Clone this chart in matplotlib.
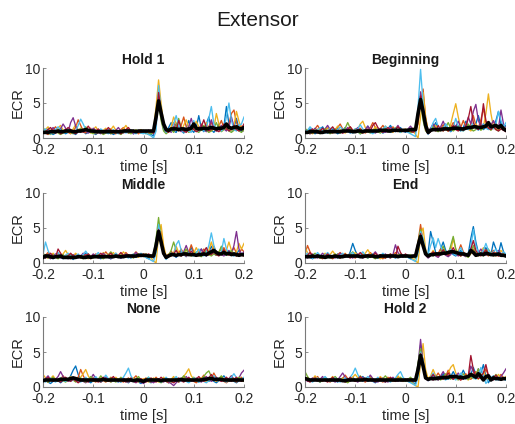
import numpy as np
import matplotlib
matplotlib.use("Agg")
import matplotlib.pyplot as plt

plt.rcParams['font.family'] = ['Liberation Sans', 'DejaVu Sans']

time_s = np.round(np.arange(-0.2, 0.2001, 0.005), 3)

titles = ["Hold 1", "Beginning", "Middle", "End", "None", "Hold 2"]
colors = ['#0072BD', '#D95319', '#EDB120', '#7E2F8E', '#77AC30', '#4DBEEE', '#A2142F']

# ---------------- Hold 1 ----------------
hold1_mean = [0.8,0.8,0.8,0.9,0.9,0.9,1.0,0.9,0.9,1.0, 1.0,1.0,0.9,0.9,1.0,1.0,1.1,1.2,1.1,1.0, 1.0,0.9,0.9,0.9,0.9,0.9,0.9,0.9,0.9,0.9, 0.9,0.9,1.0,1.0,1.0,1.0,1.0,0.9,1.0,1.0,
              1.0,1.0,1.0,1.0,1.0,3.0,5.3,3.6,2.0,1.2, 1.1,1.3,1.3,1.3,1.2,1.3,1.3,1.2,1.3,1.4, 2.0,1.4,1.3,1.3,1.4,1.3,1.4,1.5,1.4,1.3, 1.4,1.4,1.5,2.0,1.5,1.4,1.5,1.6,1.4,1.3,1.5]
hold1_traces = [
    [0.6,0.9,1.3,0.8,0.5,0.7,1.1,1.4,0.9,0.6, 0.8,1.2,0.7,0.5,0.9,1.3,1.0,0.6,0.8,1.1, 0.7,0.5,0.8,1.0,0.6,0.9,1.2,0.8,0.5,0.7, 1.0,0.6,0.8,1.1,0.7,0.9,0.6,0.8,1.0,0.7,
     0.8,0.6,0.9,0.5,0.3,3.5,7.0,3.0,1.2,0.8, 1.5,2.2,1.0,0.8,1.6,1.1,0.7,1.4,2.5,1.2, 0.8,1.5,3.2,1.4,0.9,2.0,3.0,1.2,0.8,1.3, 2.0,1.1,1.6,4.5,2.0,1.0,1.5,2.8,1.3,0.9,1.5],
    [1.0,0.7,0.5,0.8,1.2,1.6,1.1,0.7,0.9,1.3, 0.8,0.6,1.0,1.5,2.6,1.8,1.0,0.7,1.1,1.4, 0.9,0.6,0.8,1.2,0.9,0.7,1.0,1.3,0.8,0.6, 0.9,1.2,1.5,1.0,0.7,0.9,1.1,0.8,0.6,0.9,
     1.1,0.8,0.6,1.0,0.8,2.5,6.0,4.0,1.8,1.0, 0.9,1.3,2.2,1.5,1.0,1.8,3.0,1.6,1.0,1.2, 1.8,1.2,1.0,2.0,1.4,1.1,1.6,2.2,1.3,1.0, 1.7,2.5,1.4,1.1,2.0,3.5,4.0,2.2,1.3,1.7,1.4],
    [0.8,1.2,1.6,1.0,0.7,0.9,1.4,1.8,1.1,0.8, 1.0,0.7,1.3,1.9,1.2,0.8,1.1,1.5,1.0,0.7, 1.2,1.6,1.0,0.8,1.1,1.4,0.9,1.2,1.7,1.1, 0.8,1.0,1.3,1.8,1.2,0.9,1.1,0.8,1.0,1.2,
     0.9,1.1,0.8,1.0,1.2,4.5,8.3,5.0,2.0,1.2, 1.0,1.6,3.0,2.0,1.2,1.0,1.8,2.6,1.5,1.1, 1.4,2.4,1.6,1.1,1.3,2.2,1.5,1.0,1.4,3.5, 2.0,1.2,1.5,2.0,1.4,1.1,1.8,3.8,2.4,1.3,1.6],
    [1.2,0.8,0.6,1.0,1.5,1.1,0.8,1.3,2.0,1.4, 0.9,2.2,2.9,1.7,1.0,0.8,1.2,1.0,0.7,0.9, 1.4,1.1,0.8,0.6,0.9,1.2,0.8,0.6,0.8,1.1, 1.5,1.0,0.7,0.9,1.2,0.8,0.6,0.8,1.0,0.8,
     0.7,0.9,1.1,0.8,0.6,2.0,5.5,3.5,1.5,0.9, 1.2,0.8,1.4,2.0,1.2,0.9,1.3,1.0,1.6,2.8, 1.5,1.0,1.3,1.9,1.2,0.9,1.4,2.6,1.4,1.0, 1.2,1.8,1.3,1.0,1.5,3.0,1.6,1.1,1.4,1.2,1.0],
    [1.5,1.0,0.7,0.5,0.8,1.1,0.7,0.5,0.7,0.9, 1.2,0.8,0.6,0.8,1.1,1.4,1.0,1.6,1.2,0.8, 0.6,0.9,1.2,0.8,0.5,0.7,0.9,0.6,0.8,1.0, 0.7,0.5,0.8,1.1,0.8,0.6,0.9,1.2,0.9,0.7,
     0.9,0.7,0.5,0.6,0.8,3.0,5.0,2.5,1.0,0.6, 0.9,1.2,0.8,1.8,2.8,1.5,0.9,1.2,0.8,1.0, 1.6,1.0,0.8,1.2,1.8,1.1,0.8,1.0,1.4,2.2, 1.3,0.9,1.2,1.6,1.0,0.8,1.1,1.5,1.0,0.8,1.2],
    [0.9,1.3,0.9,0.6,0.8,1.2,1.6,1.1,0.8,1.0, 1.4,1.0,0.7,1.0,1.8,2.7,2.0,1.2,0.9,1.3, 1.0,0.7,0.9,1.3,1.0,0.8,0.6,0.9,1.2,0.8, 0.6,0.8,1.0,0.7,0.9,1.2,0.8,0.6,0.9,0.7,
     0.6,0.8,0.5,0.3,0.0,1.0,7.5,4.0,1.5,0.8, 1.3,1.0,2.0,3.2,1.8,1.1,0.9,1.4,1.0,0.8, 2.5,1.4,1.0,1.3,1.0,1.5,2.8,4.5,2.0,1.2, 1.5,1.0,1.4,3.0,5.0,2.5,1.2,1.0,1.8,2.0,3.0],
    [0.7,0.9,1.2,1.5,1.0,0.7,0.9,0.6,0.8,1.1, 1.5,1.2,0.8,0.6,0.9,1.2,0.8,1.1,1.7,1.2, 0.8,1.0,1.3,0.9,0.7,1.0,1.5,1.1,0.8,1.0, 0.8,0.6,0.9,1.2,1.5,1.0,0.8,1.1,0.9,0.8,
     1.0,0.8,1.1,0.9,0.7,2.2,6.5,3.8,1.6,1.0, 0.8,1.2,1.6,1.1,2.5,1.4,1.0,0.8,1.2,1.7, 1.2,0.9,1.1,1.6,2.6,1.5,1.0,1.2,1.6,1.1, 0.9,1.3,2.0,1.4,1.0,1.3,1.8,1.2,1.0,1.4,2.0],
]

# ---------------- Beginning ----------------
begin_mean = [0.8,0.8,0.9,0.9,0.9,0.9,0.8,0.8,0.9,0.9, 0.9,0.9,0.9,0.9,0.9,1.0,1.0,1.0,1.0,0.9, 0.9,1.0,1.0,0.9,1.0,1.0,1.0,1.0,1.0,1.0, 1.1,1.1,1.1,1.0,1.0,1.1,1.1,1.1,1.1,1.1,
              1.1,1.1,1.2,1.2,1.2,3.5,5.5,3.8,1.8,0.8, 1.1,1.2,1.2,1.2,1.2,1.3,1.3,1.3,1.3,1.4, 1.4,1.4,1.3,1.3,1.4,1.5,1.5,1.6,1.6,1.5, 1.5,1.6,1.7,2.2,1.6,1.7,1.8,1.5,1.8,1.3,1.1]
begin_traces = [
    [0.7,1.0,1.3,0.9,0.6,0.8,1.2,1.6,1.0,0.7, 0.9,1.3,0.9,0.6,0.8,1.1,1.5,1.0,0.7,1.0, 1.3,0.9,0.6,0.9,1.2,1.7,1.1,0.8,1.0,1.4, 1.0,0.7,0.9,1.3,1.8,1.2,0.9,1.1,1.5,1.0,
     0.8,1.1,1.4,1.0,0.8,3.0,6.0,4.0,1.5,0.6, 1.0,1.5,2.2,1.3,1.0,1.4,2.0,1.2,0.9,1.3, 1.8,1.2,1.0,1.5,2.4,1.5,1.1,1.4,2.0,3.2, 1.8,1.2,1.5,2.0,1.4,1.6,2.5,3.8,2.0,1.4,1.8],
    [1.1,0.8,0.6,0.9,1.3,1.8,1.2,0.8,1.0,1.4, 1.0,0.7,1.0,1.5,2.0,1.3,0.9,1.2,1.6,1.1, 0.8,1.0,1.4,1.0,0.7,1.0,1.5,2.2,1.5,1.0, 1.3,1.8,1.2,0.9,1.2,1.6,1.1,0.9,1.3,1.0,
     1.2,0.9,1.1,1.4,1.0,2.0,5.0,7.0,3.0,1.0, 1.2,2.0,1.4,1.0,1.3,1.9,1.2,1.0,1.5,2.2, 1.4,1.1,1.5,2.5,1.6,1.2,2.0,3.2,1.8,1.4, 2.6,4.2,2.2,1.4,1.8,2.4,1.5,1.2,1.6,1.2,1.0],
    [0.9,1.2,0.8,0.6,0.9,1.3,1.0,0.7,1.1,1.5, 1.1,0.8,1.2,1.7,1.2,0.9,0.7,1.0,1.4,1.0, 0.8,1.2,2.0,2.4,1.5,1.0,0.8,1.1,1.6,1.2, 0.9,1.2,1.7,1.3,0.9,0.8,1.2,1.0,0.8,1.1,
     1.3,1.0,0.8,1.1,0.5,0.0,3.0,6.5,3.0,0.8, 1.0,1.4,1.8,1.2,1.0,1.5,1.2,1.0,2.0,3.5, 4.9,3.0,1.5,1.2,1.6,1.3,1.0,1.5,2.0,1.4, 1.2,1.6,3.5,6.3,3.5,1.6,1.2,1.4,1.8,1.3,1.0],
    [1.2,0.8,0.6,0.9,1.4,1.0,0.7,0.9,1.3,1.8, 1.2,0.8,1.0,1.3,0.9,0.7,1.0,1.5,1.0,0.8, 1.1,1.5,1.0,0.8,1.2,1.7,1.2,0.9,0.7,1.0, 1.4,1.0,0.8,1.1,1.5,1.1,1.3,1.8,1.2,0.9,
     1.0,1.3,1.7,1.2,1.0,3.5,6.6,3.5,1.5,1.0, 1.4,2.0,1.3,1.0,1.6,2.4,1.5,1.1,1.4,1.1, 1.6,2.4,1.5,1.2,1.8,3.0,2.0,3.8,4.8,2.5, 1.6,2.0,1.5,1.3,1.8,2.5,1.6,1.4,4.0,2.0,1.2],
    [1.4,1.0,0.7,0.9,1.2,0.8,0.6,0.9,1.3,0.9, 0.6,0.9,1.3,1.0,0.7,0.9,1.4,2.2,1.4,0.9, 1.2,0.9,0.6,0.8,1.2,0.9,0.7,1.0,1.3,0.9, 0.7,1.0,1.4,1.0,0.8,1.1,1.5,1.1,0.8,1.0,
     1.2,0.9,0.7,1.0,1.3,4.0,5.5,2.5,1.0,0.7, 1.1,1.6,1.1,0.9,1.3,1.0,1.5,2.2,1.4,1.0, 1.3,1.8,1.2,1.0,1.4,2.0,1.3,1.0,1.2,1.6, 1.1,1.4,2.0,1.4,1.1,1.5,1.2,1.0,1.3,1.6,1.2],
    [0.8,1.1,1.6,1.2,0.8,1.1,1.5,1.0,0.7,1.0, 1.4,1.0,0.8,1.2,1.6,1.2,0.9,1.2,1.0,0.7, 0.9,1.3,1.9,1.3,0.9,1.1,0.8,0.6,0.9,1.3, 0.9,1.2,1.7,1.2,0.8,1.0,1.4,1.0,0.8,1.2,
     1.0,0.8,0.6,0.4,0.2,4.5,9.8,5.0,1.5,0.5, 1.2,2.2,2.8,1.6,1.1,1.4,2.0,1.3,1.0,1.5, 2.8,1.6,1.2,1.0,1.4,1.2,1.6,2.2,1.4,1.1, 1.5,2.0,1.4,1.2,1.6,1.3,2.0,3.8,2.5,1.6,2.2],
    [1.0,0.7,1.0,1.3,0.9,0.7,1.0,1.4,1.0,0.8, 1.2,1.6,1.1,0.8,1.0,0.7,0.9,1.2,1.6,1.1, 0.9,1.2,0.9,0.7,1.0,1.3,1.0,1.8,2.2,1.5, 1.0,0.8,1.1,1.5,1.1,0.9,1.2,1.6,1.2,1.0,
     0.9,1.2,1.0,0.8,1.1,3.0,6.0,3.8,1.2,0.6, 0.9,1.3,1.0,1.8,1.2,1.0,1.4,1.0,1.2,1.8, 1.2,1.0,1.4,1.1,1.6,2.8,4.5,2.2,1.4,1.2, 1.8,4.9,2.5,1.4,1.2,1.6,1.2,1.0,1.3,1.1,0.9],
]

# ---------------- Middle ----------------
middle_mean = [0.8,1.0,1.0,0.9,0.8,0.9,0.9,1.0,0.8,0.8, 0.8,0.8,0.8,0.8,0.9,0.9,0.8,0.8,0.9,0.8, 0.9,0.9,0.9,0.9,0.9,0.9,0.9,0.9,0.9,1.0, 0.9,0.9,0.9,1.0,1.0,1.0,1.0,1.0,1.1,1.1,
               1.1,1.1,1.0,1.0,1.0,2.5,4.5,3.0,1.4,0.8, 1.0,1.2,1.2,1.1,1.2,1.2,1.3,1.3,1.2,1.2, 1.2,1.1,1.2,1.2,1.3,1.2,1.4,1.6,1.8,1.5, 1.3,1.3,1.5,1.3,1.4,1.2,1.3,1.2,1.1,1.2,1.2]
middle_traces = [
    [1.0,0.7,1.2,0.8,0.6,0.9,1.2,0.8,0.6,0.9, 1.1,0.8,0.5,0.8,1.0,0.7,1.1,1.4,1.0,0.7, 0.9,1.2,0.8,0.6,0.9,1.1,0.8,0.6,0.9,1.2, 0.9,0.7,1.0,1.3,0.9,0.7,1.0,0.8,1.1,1.3,
     1.0,0.8,0.6,0.9,0.7,2.5,5.0,3.2,1.2,0.6, 1.0,1.5,1.1,0.8,1.2,1.8,1.2,0.9,1.4,2.2, 1.4,1.0,1.3,2.0,1.3,1.0,1.5,2.4,1.6,1.1, 1.4,2.2,1.4,1.1,1.6,1.2,1.0,1.3,1.8,1.2,1.0],
    [0.8,1.1,1.5,1.0,0.7,1.0,1.4,1.0,0.8,1.1, 0.8,0.6,0.9,1.3,0.9,0.7,1.0,1.2,0.8,0.6, 0.9,1.3,1.0,0.8,1.1,1.6,1.1,0.8,1.0,1.4, 1.0,0.8,1.1,1.5,1.1,0.9,1.2,1.6,1.2,1.0,
     1.3,1.0,0.8,1.1,0.9,2.0,4.0,4.5,2.0,0.8, 1.1,1.7,1.2,1.0,1.4,2.0,1.3,1.0,1.5,2.6, 1.6,1.2,1.0,1.4,2.0,1.4,1.1,1.6,2.4,1.5, 1.2,1.5,2.2,1.5,1.2,1.6,2.2,1.4,1.2,2.0,1.6],
    [1.2,0.9,0.7,1.0,1.4,1.0,0.7,1.0,1.3,1.8, 1.2,0.8,1.0,1.4,1.0,0.8,1.1,0.8,0.6,0.9, 1.2,0.9,0.7,1.0,1.5,1.1,0.8,1.1,1.5,1.0, 0.8,1.1,1.6,1.1,0.8,1.0,1.3,1.0,0.8,1.1,
     1.0,1.3,1.0,0.7,0.3,0.0,4.0,5.5,2.5,1.0, 1.3,1.0,1.5,2.4,1.5,1.1,1.4,1.9,1.3,1.0, 1.4,2.2,1.5,1.1,1.4,1.1,1.8,3.0,1.8,1.2, 1.6,2.2,1.4,1.8,3.0,1.8,1.3,1.6,2.8,2.0,2.8],
    [0.9,1.2,0.8,0.6,0.9,1.3,0.9,0.7,1.0,0.8, 0.6,0.9,1.2,0.9,0.7,1.0,1.4,1.0,0.7,0.9, 1.3,1.0,0.7,1.0,1.4,1.0,0.8,0.6,0.9,1.2, 0.9,0.7,1.0,1.3,1.0,0.8,1.1,1.5,1.1,0.9,
     1.1,0.9,1.2,1.0,0.8,3.0,5.2,3.0,1.3,0.7, 1.0,1.4,1.1,0.9,1.3,1.0,1.6,2.5,1.5,1.1, 1.3,1.0,1.4,2.0,1.4,1.0,1.3,1.8,1.3,1.1, 1.5,1.2,1.0,1.4,1.8,1.3,2.5,4.5,2.0,1.2,1.6],
    [1.4,1.0,0.7,0.9,1.2,0.8,0.6,0.9,1.2,0.8, 1.0,1.3,0.9,0.7,1.0,0.8,0.6,0.9,1.3,1.0, 0.7,0.9,1.2,0.8,0.6,0.9,1.2,1.6,1.1,0.8, 1.0,1.4,1.0,0.8,1.1,0.9,0.7,1.0,1.3,1.1,
     0.9,1.1,0.8,1.0,1.2,3.5,6.5,3.5,1.2,0.7, 1.1,1.8,3.0,1.8,1.2,1.0,1.4,2.0,1.3,1.0, 1.2,1.6,1.1,0.9,1.3,1.8,1.2,1.0,1.3,1.1, 1.5,2.4,1.5,1.1,1.4,1.8,1.2,1.0,1.3,1.1,1.0],
    [1.2,3.0,1.8,1.0,0.8,1.1,1.5,1.0,0.8,1.1, 1.4,1.0,0.7,1.0,1.3,0.9,1.2,1.7,1.2,0.9, 0.8,1.1,1.5,1.0,0.8,1.1,0.9,0.7,1.0,1.4, 1.0,0.8,1.1,0.9,0.7,1.0,1.3,0.9,1.1,1.4,
     1.1,0.8,0.6,0.4,0.2,1.5,5.5,3.5,1.2,0.5, 1.0,1.4,1.0,2.6,3.2,1.8,1.2,1.0,1.5,1.1, 1.0,1.4,2.0,1.3,1.0,1.5,2.5,4.3,2.5,1.4, 1.2,1.6,3.5,2.0,1.3,1.1,1.5,1.2,1.0,1.4,1.1],
    [0.9,0.7,1.0,1.4,1.0,0.8,2.0,1.4,0.9,0.7, 1.0,1.4,1.0,0.8,1.1,0.9,0.7,1.0,1.3,0.9, 1.1,0.8,1.0,1.4,1.0,0.8,1.1,1.4,1.0,0.8, 1.1,1.5,1.1,0.9,1.2,1.0,0.8,1.1,1.0,1.2,
     1.2,1.0,1.3,1.1,0.9,2.2,4.8,3.0,1.2,0.8, 1.2,1.0,1.3,1.8,1.2,1.0,1.3,1.0,1.2,1.7, 1.2,1.0,1.3,1.1,1.6,2.2,1.4,1.2,1.6,1.2, 1.0,1.4,1.9,1.3,1.1,1.5,1.2,1.0,1.4,1.1,1.0],
]

# ---------------- End ----------------
end_mean = [0.9,0.9,0.9,1.0,0.9,1.0,0.9,0.9,0.8,0.9, 0.9,0.9,1.0,0.9,0.9,0.9,1.0,1.0,1.0,1.0, 1.0,1.0,0.9,0.9,1.0,1.0,1.0,1.0,0.9,0.9, 1.0,1.0,1.0,1.0,1.0,1.0,1.0,0.9,1.0,1.0,
            1.0,1.0,0.9,1.0,1.0,2.5,3.8,2.5,1.3,1.0, 1.2,1.2,1.3,1.3,1.3,1.4,1.4,1.5,1.6,1.6, 1.5,1.4,1.3,1.3,1.2,1.1,1.8,1.5,1.1,1.2, 1.3,1.2,1.4,1.3,1.2,1.2,1.2,1.3,1.1,1.1,1.0]
end_traces = [
    [0.8,1.1,0.8,0.6,0.9,1.2,0.9,0.7,1.0,1.3, 0.9,0.7,1.0,1.3,1.0,0.8,1.1,0.8,1.6,2.8, 1.8,1.0,0.8,1.1,0.9,0.7,1.0,1.3,0.9,0.7, 1.0,1.3,1.0,0.8,1.1,0.9,0.7,1.0,1.2,0.9,
     1.0,0.8,0.6,0.9,0.7,2.5,4.5,2.8,1.2,1.5, 4.5,3.0,1.5,1.2,2.0,3.0,1.8,1.3,1.6,1.2, 1.0,1.3,1.8,1.2,1.0,1.4,3.5,5.2,3.0,1.5, 1.2,1.6,2.2,1.5,1.2,3.0,2.0,1.3,2.9,1.6,1.2],
    [1.2,2.5,1.6,1.0,0.8,1.1,0.8,0.6,0.9,1.2, 0.8,0.6,0.9,1.2,1.5,1.1,0.8,1.0,1.3,0.9, 0.7,1.0,1.3,1.0,0.8,1.1,1.5,1.1,0.8,1.0, 0.8,0.6,0.9,1.2,0.9,1.1,1.5,1.1,0.8,1.0,
     1.2,0.9,0.7,1.0,1.3,3.0,5.5,3.0,1.2,0.8, 1.1,1.5,1.1,1.4,2.0,1.4,1.1,1.5,2.2,1.5, 1.2,1.6,2.6,1.6,1.2,1.0,1.4,2.0,1.4,1.1, 1.4,1.9,1.3,1.0,1.4,1.8,1.3,1.0,1.2,1.5,1.1],
    [2.2,1.5,1.0,0.8,1.1,0.9,0.7,1.0,1.4,1.0, 1.2,1.7,1.2,0.9,0.7,1.0,1.4,1.0,0.8,1.1, 1.5,1.1,0.8,1.0,1.4,1.9,1.3,0.9,1.1,0.8, 0.6,0.9,1.2,0.9,0.7,1.0,1.3,1.0,0.8,1.1,
     0.9,1.1,0.8,0.6,0.3,0.0,4.2,5.0,2.0,0.8, 1.2,1.8,1.2,1.0,1.4,2.0,1.4,1.1,1.6,3.5, 2.0,1.3,1.0,1.4,1.1,0.9,1.3,1.8,1.2,1.0, 1.5,2.2,1.4,1.1,1.5,1.2,1.0,1.4,1.8,1.3,1.0],
    [1.0,0.7,1.0,1.3,0.9,0.7,1.0,1.4,1.0,0.8, 1.1,0.9,0.7,1.0,1.4,1.0,0.8,1.1,0.9,0.7, 1.0,1.3,0.9,0.7,1.0,1.2,0.9,1.2,1.6,1.1, 0.8,1.0,1.3,0.9,0.7,1.2,2.6,1.5,1.0,0.8,
     1.1,0.9,1.2,1.0,0.8,2.8,4.0,2.5,1.1,0.7, 1.0,1.3,1.0,0.8,1.2,1.6,1.1,0.9,1.2,1.8, 1.3,1.0,1.4,1.1,0.9,1.2,1.8,1.4,1.1,1.4, 2.0,1.4,1.1,1.5,1.2,1.0,1.3,1.8,1.3,1.0,1.2],
    [1.5,1.0,0.8,1.1,1.4,1.0,0.7,0.9,1.2,0.9, 0.7,1.0,1.3,0.9,0.7,1.0,1.2,0.9,1.2,1.6, 1.1,0.8,1.0,1.3,0.9,0.7,1.0,0.8,0.6,0.9, 1.2,0.9,0.7,1.0,1.3,1.0,0.8,1.1,1.3,1.0,
     0.8,1.0,1.2,0.9,0.7,3.0,4.8,3.2,1.4,0.9, 1.2,1.0,1.4,1.1,1.5,2.4,1.5,1.2,2.5,3.8, 2.0,1.3,1.0,1.4,1.0,0.8,1.5,2.5,1.5,1.1, 1.3,1.0,1.4,2.0,1.3,1.0,1.4,1.1,1.3,1.0,0.9],
    [1.0,1.4,1.0,0.7,1.0,1.5,1.1,0.8,1.1,1.5, 1.1,0.8,1.0,0.7,1.0,1.4,1.0,0.8,1.1,1.5, 1.0,0.8,1.2,1.6,1.1,0.8,1.0,1.3,0.9,0.7, 1.0,1.4,1.0,0.8,1.1,0.9,1.2,1.0,0.8,1.1,
     1.0,0.8,0.6,0.4,0.2,1.5,4.5,3.5,1.5,1.2, 2.5,3.6,2.2,3.5,2.4,1.6,1.2,1.5,2.0,1.4, 1.1,1.5,2.2,1.4,1.1,1.4,2.2,4.8,2.5,1.5, 1.3,1.8,2.8,1.8,1.3,1.6,2.0,1.4,1.2,1.6,1.2],
    [0.8,1.1,1.5,1.0,0.8,1.2,0.9,0.7,1.0,1.3, 1.0,0.8,1.1,0.9,0.7,1.0,1.3,0.9,0.7,1.0, 0.8,1.1,1.5,1.1,0.8,1.0,0.8,1.1,1.4,1.0, 1.2,0.9,0.7,1.0,1.3,1.0,0.8,2.4,1.5,1.0,
     1.3,1.0,0.8,1.1,0.9,2.2,4.2,2.8,1.3,0.9, 1.2,1.6,1.2,1.0,1.4,1.9,1.3,1.1,1.5,2.2, 1.5,1.2,1.0,1.4,1.2,1.0,2.0,3.2,1.8,1.2, 1.0,1.4,1.9,1.3,1.1,1.5,1.2,1.0,1.3,1.2,1.0],
]

# ---------------- None ----------------
none_mean = [0.9,1.0,1.0,1.0,1.0,1.0,1.0,1.1,1.1,1.1, 1.1,1.2,1.3,1.2,1.1,1.0,1.0,1.0,1.0,1.0, 1.0,1.0,1.0,1.0,1.1,1.0,1.0,1.0,1.0,1.0, 1.0,1.0,1.0,1.0,1.0,1.0,0.9,1.0,1.0,0.9,
             0.8,1.0,1.0,1.0,1.0,1.0,1.0,0.9,1.0,1.0, 1.0,1.0,1.0,1.0,1.0,1.1,1.0,1.0,1.0,1.0, 1.0,1.0,1.0,1.0,1.1,1.1,1.2,1.2,1.1,1.1, 1.1,1.1,1.0,1.0,1.0,1.0,1.0,1.0,1.0,1.0,1.0]
none_traces = [
    [0.8,1.1,0.7,0.5,0.8,1.2,0.9,0.6,0.9,1.3, 1.0,1.6,2.4,3.0,1.8,1.0,0.8,1.1,0.8,0.6, 0.9,1.2,0.9,0.7,1.0,1.4,1.0,0.7,0.9,1.2, 0.9,0.7,1.0,0.8,0.6,0.9,1.2,0.9,0.7,0.5,
     0.8,1.1,0.8,0.6,0.9,1.2,0.9,0.7,1.0,0.8, 0.6,0.9,1.2,0.9,0.7,1.0,1.3,0.9,0.7,0.9, 1.2,0.9,0.7,1.0,1.4,1.0,0.8,1.1,0.8,0.6, 0.9,1.2,1.6,1.1,0.8,1.0,0.8,0.6,0.9,1.2,0.9],
    [1.2,0.9,0.7,1.0,1.4,1.0,0.8,1.1,1.6,1.1, 0.8,1.0,1.3,0.9,1.4,2.5,1.6,1.0,0.8,1.1, 0.9,0.7,1.0,1.3,0.9,0.7,1.0,1.4,1.0,0.8, 1.1,0.9,0.7,1.0,1.3,0.9,1.2,1.6,1.1,0.8,
     1.0,1.3,0.9,0.7,1.0,1.4,1.0,0.8,1.1,0.8, 0.6,0.9,1.3,0.9,0.7,1.0,1.5,1.0,0.8,1.1, 0.8,0.6,0.9,1.2,1.7,1.2,0.9,1.2,2.0,1.3, 0.9,1.1,0.8,0.6,0.9,1.3,0.9,0.7,1.0,1.4,1.0],
    [1.8,1.3,0.9,1.2,1.6,1.1,0.8,1.0,1.3,0.9, 1.1,1.5,1.0,0.8,1.1,1.4,1.9,2.5,1.6,1.0, 0.8,1.1,0.9,0.7,1.0,1.3,0.9,0.7,1.0,1.4, 1.0,0.8,1.1,0.9,0.7,1.0,1.3,0.9,0.7,1.0,
     1.2,0.9,0.7,1.0,1.3,0.9,0.7,1.0,1.4,1.0, 0.8,1.1,1.5,1.0,0.8,1.1,1.5,2.0,2.6,1.6, 1.1,0.8,1.0,1.3,0.9,0.7,1.0,1.4,1.0,0.8, 1.1,1.5,1.0,0.8,1.2,1.6,1.1,0.9,1.2,0.9,0.8],
    [0.9,1.2,1.6,1.1,0.8,1.1,1.5,2.2,1.5,1.0, 0.8,1.0,1.4,1.0,0.7,1.0,0.8,0.6,0.9,1.2, 1.8,1.2,0.9,0.7,1.0,1.4,1.0,0.8,1.1,0.9, 0.7,1.0,1.3,0.9,0.7,1.0,0.8,0.6,0.9,0.7,
     0.5,0.8,1.1,0.8,0.6,0.9,1.2,0.9,0.7,1.0, 0.7,0.5,0.2,0.6,1.0,0.8,1.1,1.5,1.0,0.8, 1.0,1.3,0.9,0.7,1.0,1.5,1.1,0.8,1.0,1.4, 1.0,0.8,1.1,0.8,1.2,1.6,1.1,0.9,1.3,2.0,2.4],
    [1.3,0.9,0.7,1.0,1.4,1.0,0.8,1.2,0.9,0.7, 1.0,1.4,1.0,0.7,1.0,1.3,0.9,0.7,1.0,1.5, 1.1,0.8,1.1,1.6,1.1,0.8,1.0,1.3,0.9,0.7, 1.0,1.4,1.0,0.8,1.2,1.0,0.8,1.1,1.5,1.0,
     0.8,1.1,1.4,1.0,0.8,1.1,0.8,0.6,0.9,1.2, 0.9,0.7,1.0,1.3,0.9,1.1,1.6,1.1,0.8,1.0, 1.4,1.0,0.8,1.1,1.5,2.0,2.3,1.5,1.1,0.9, 1.2,1.6,1.1,0.8,1.0,1.3,0.9,1.1,1.4,1.0,0.8],
    [1.0,0.7,1.0,1.3,0.9,0.7,1.0,1.3,1.0,0.8, 1.1,0.8,1.0,1.3,0.9,0.7,1.0,1.4,1.0,0.8, 1.1,1.5,1.0,0.8,1.2,1.7,1.2,0.9,1.2,0.9, 0.7,1.0,1.4,2.0,2.7,1.6,1.0,0.8,1.1,0.9,
     0.7,1.0,1.4,1.0,0.8,1.1,0.9,0.7,1.0,1.4, 1.0,0.8,1.1,1.5,1.0,0.8,1.1,0.8,0.6,0.9, 1.3,0.9,0.7,1.0,0.8,0.6,0.9,1.2,1.6,1.1, 0.9,1.2,0.9,0.7,1.0,1.4,1.9,1.3,0.9,1.1,1.4],
    [0.7,1.0,1.4,1.0,0.8,1.1,0.9,0.7,1.0,1.4, 1.0,0.8,1.1,0.9,0.6,0.9,1.2,0.9,0.7,1.0, 1.3,0.9,0.7,1.0,1.4,1.0,0.8,1.1,1.5,1.0, 0.8,1.1,0.9,0.7,1.0,1.3,0.9,0.7,1.0,1.2,
     0.9,0.7,1.0,1.3,0.9,0.7,1.0,1.4,1.0,0.8, 1.1,0.8,0.6,0.9,1.3,0.9,0.7,1.0,1.4,1.0, 0.8,1.1,1.5,1.1,0.8,1.0,1.3,1.8,1.2,0.9, 1.1,0.8,1.0,1.4,1.0,0.8,1.1,1.4,1.0,0.8,1.0],
]

# ---------------- Hold 2 ----------------
hold2_mean = [1.2,1.1,1.0,1.0,1.0,1.0,1.0,1.0,1.0,1.0, 1.0,1.0,1.0,1.0,1.0,0.9,0.9,1.0,1.0,1.0, 1.0,1.0,1.0,1.0,1.1,1.0,1.0,1.0,1.0,1.0, 1.0,1.0,1.0,1.0,1.0,1.0,1.0,1.0,1.0,1.0,
              1.0,1.0,1.0,1.0,1.0,2.5,4.5,3.0,1.3,1.1, 1.2,1.2,1.2,1.3,1.3,1.4,1.3,1.4,1.5,1.5, 1.5,1.4,1.4,1.3,1.4,1.5,1.8,1.6,1.4,1.9, 1.5,1.0,1.5,1.6,1.0,1.3,1.2,1.2,1.1,1.2,1.2]
hold2_traces = [
    [1.5,1.1,0.8,1.0,1.3,0.9,0.7,1.0,1.4,1.0, 0.8,1.1,0.9,0.7,1.0,1.3,0.9,0.7,1.0,1.4, 1.0,0.8,1.1,1.5,1.1,0.8,1.0,0.8,0.6,0.9, 1.2,0.9,0.7,1.0,1.3,1.0,0.8,1.1,0.9,0.8,
     1.0,0.8,0.7,0.6,0.5,3.0,6.0,3.5,1.4,0.9, 1.2,1.7,1.2,1.0,1.4,1.9,1.3,1.1,1.5,2.2, 1.5,1.2,1.6,2.4,1.6,1.3,1.8,2.8,1.8,1.3, 2.0,3.2,1.5,0.6,1.2,1.6,1.2,1.0,1.4,1.1,1.0],
    [1.0,1.4,1.0,0.8,1.1,1.5,1.0,0.8,1.1,0.9, 0.7,1.0,1.4,1.0,0.8,1.2,1.7,1.2,0.9,1.1, 0.8,1.0,1.3,0.9,0.7,1.0,1.5,1.1,0.8,1.1, 0.9,0.7,1.0,1.4,1.0,0.8,1.1,1.4,1.0,0.8,
     1.1,0.9,1.2,1.0,0.8,2.5,5.0,4.0,1.8,1.0, 1.3,1.0,1.4,2.0,1.4,1.1,1.5,2.4,1.6,1.2, 1.5,1.2,1.0,1.4,1.9,1.3,1.1,1.5,2.2,1.5, 1.2,1.6,2.6,1.6,1.2,1.5,1.1,1.3,1.8,1.3,1.1],
    [1.3,1.0,0.8,1.1,1.6,1.1,0.8,1.0,1.3,0.9, 1.1,1.5,1.1,0.8,1.0,1.3,0.9,0.7,1.0,1.4, 1.8,1.3,0.9,1.1,0.8,1.0,1.4,1.0,0.8,1.1, 1.5,1.1,0.8,1.0,1.3,0.9,1.1,1.6,1.1,0.9,
     1.2,1.0,0.8,0.5,0.2,0.0,3.5,6.2,2.5,1.2, 1.6,2.5,1.6,1.2,1.5,1.1,1.4,2.0,2.8,3.2, 2.0,1.4,1.1,1.5,1.2,1.0,1.4,2.0,1.4,1.1, 1.5,2.2,1.5,1.1,1.4,1.0,1.3,1.8,1.3,1.1,1.5],
    [1.1,0.8,1.0,1.3,1.0,0.8,1.1,1.5,1.0,0.8, 1.2,0.9,0.7,1.0,1.5,2.0,1.4,1.0,0.8,1.1, 0.9,0.7,1.0,1.4,1.0,1.2,1.7,1.2,0.9,0.7, 1.0,1.3,0.9,0.7,1.0,1.4,1.0,0.8,1.1,1.0,
     0.9,1.2,1.0,0.8,1.1,3.2,6.8,3.2,1.2,0.9, 1.2,1.0,1.4,1.1,1.6,2.2,1.5,1.2,1.4,1.1, 1.5,2.0,1.4,1.1,1.5,1.2,3.0,2.2,1.4,2.6, 1.6,1.0,1.3,1.8,1.2,1.0,1.3,1.1,1.5,2.0,2.6],
    [2.2,1.5,1.0,0.8,1.1,0.9,0.7,1.0,1.4,1.0, 0.8,1.1,1.5,1.1,0.8,1.0,0.8,0.6,0.9,1.2, 0.9,1.2,1.6,1.1,0.8,1.0,1.3,1.0,0.8,1.1, 0.9,1.2,1.6,1.1,0.8,1.0,0.8,1.1,1.4,1.0,
     0.8,1.1,1.4,1.0,0.8,3.5,5.5,3.0,1.3,1.0, 1.4,1.1,1.6,1.2,1.0,1.4,1.9,1.3,1.1,1.6, 1.2,1.0,1.4,1.9,1.3,1.1,1.5,1.2,1.7,2.6, 1.5,1.2,1.6,1.2,1.0,1.3,1.8,1.2,1.0,1.3,1.1],
    [0.9,1.2,0.9,0.7,1.0,1.3,0.9,1.1,1.5,1.1, 0.8,1.0,1.3,0.9,0.7,1.0,1.3,1.0,1.4,1.9, 2.7,1.8,1.1,0.8,1.1,1.5,1.1,0.8,1.0,1.4, 1.0,0.8,1.1,0.9,0.7,1.0,1.3,1.8,2.2,1.4,
     1.0,0.8,0.6,0.4,0.2,1.5,5.0,3.8,1.5,1.0, 1.4,2.0,1.4,1.1,1.5,1.2,1.0,1.4,1.8,1.3, 1.0,1.4,2.0,1.4,1.1,1.5,1.8,1.3,1.1,1.5, 2.8,1.6,0.5,1.0,1.5,1.2,1.0,1.4,1.1,1.3,1.0],
    [1.2,0.9,0.7,1.0,1.3,1.0,0.8,1.1,0.9,0.7, 1.0,1.4,1.0,0.8,1.1,0.9,0.7,1.0,1.4,1.0, 0.8,1.1,1.5,1.1,0.8,1.0,1.2,0.9,0.7,1.0, 1.3,0.9,0.7,1.0,1.4,1.0,0.8,1.1,0.9,1.0,
     1.1,0.9,1.1,1.0,0.8,2.8,4.8,3.0,1.3,1.0, 1.3,1.8,1.3,1.0,1.4,1.1,1.5,2.0,1.4,1.1, 1.5,1.2,1.0,1.4,1.2,1.6,4.5,2.5,1.4,1.2, 1.5,2.0,3.2,1.6,1.1,1.3,1.7,1.2,1.0,1.3,1.1],
]

panel_traces = [hold1_traces, begin_traces, middle_traces, end_traces, none_traces, hold2_traces]
panel_means = [hold1_mean, begin_mean, middle_mean, end_mean, none_mean, hold2_mean]

fig = plt.figure(figsize=(5.15, 4.24), dpi=100)
W, H = 515.0, 424.0
lefts = [43, 305]
tops = [68, 193, 317]
aw, ah = 201, 70

for k in range(6):
    r, c = divmod(k, 2)
    ax = fig.add_axes([lefts[c] / W, 1 - (tops[r] + ah) / H, aw / W, ah / H])
    for j, tr in enumerate(panel_traces[k]):
        assert len(tr) == len(time_s), (titles[k], j, len(tr))
        ax.plot(time_s, tr, color=colors[j % len(colors)], lw=0.95, zorder=2)
    assert len(panel_means[k]) == len(time_s), (titles[k], 'mean', len(panel_means[k]))
    ax.plot(time_s, panel_means[k], color='black', lw=2.6, zorder=3)
    ax.set_xlim(-0.2, 0.2)
    ax.set_ylim(0, 10)
    ax.set_xticks([-0.2, -0.1, 0, 0.1, 0.2])
    ax.set_xticklabels(['-0.2', '-0.1', '0', '0.1', '0.2'])
    ax.set_yticks([0, 5, 10])
    for s in ['top', 'right']:
        ax.spines[s].set_visible(False)
    for s in ['left', 'bottom']:
        ax.spines[s].set_color('#7a7a7a')
        ax.spines[s].set_linewidth(0.8)
    ax.tick_params(direction='in', length=2.5, width=0.6, colors='#7a7a7a',
                   labelcolor='#262626', labelsize=10)
    ax.tick_params(axis='x', pad=3.5)
    ax.tick_params(axis='y', pad=2)
    ax.set_title(titles[k], fontsize=10, fontweight='bold', color='#1a1a1a', pad=3)
    ax.set_ylabel('ECR', fontsize=10.5, color='#262626', labelpad=0)
    ax.set_xlabel('time [s]', fontsize=10.5, color='#262626', labelpad=2.5)

fig.text(0.5, 1 - 21 / H, 'Extensor', ha='center', va='center', fontsize=15, color='#1a1a1a')

fig.savefig('out.png', dpi=100, facecolor='white')
